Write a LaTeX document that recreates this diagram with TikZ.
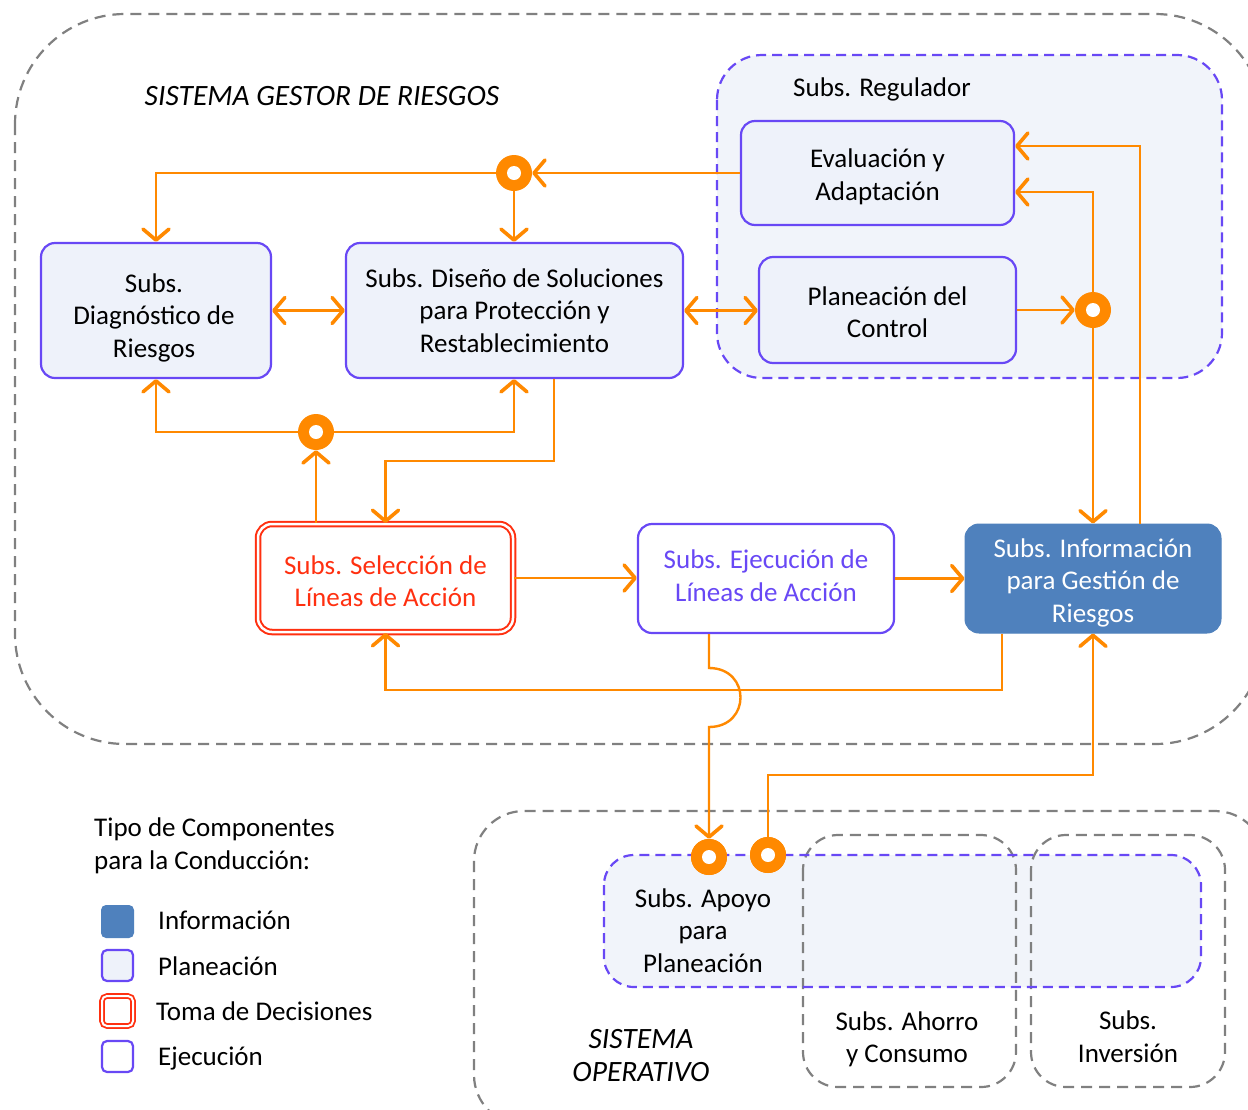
\documentclass[tikz,border=0pt]{standalone}
\usepackage{fontspec}
\setmainfont{Carlito}
\usetikzlibrary{arrows.meta}
\definecolor{org}{RGB}{255,137,0}
\definecolor{pur}{RGB}{104,72,245}
\definecolor{pfill}{RGB}{238,242,250}
\definecolor{rfill}{RGB}{241,244,250}
\definecolor{redc}{RGB}{255,48,16}
\definecolor{info}{RGB}{79,129,189}
\definecolor{gry}{RGB}{128,128,128}
\newcommand\myfs{\fontsize{27}{32.5}\selectfont}
\newcommand\myit{\fontsize{29.5}{33}\selectfont\itshape}
\begin{document}
\begin{tikzpicture}[x=1pt,y=-1pt,
  box/.style={draw=pur, line width=2.2pt, rounded corners=14pt, fill=pfill, inner sep=0pt},
  selbox/.style={draw=redc, double=white, double distance=2.5pt, line width=2pt, rounded corners=14pt, fill=white, inner sep=0pt},
  ejbox/.style={box, fill=white},
  infobox/.style={draw=info, line width=1pt, rounded corners=14pt, fill=info, inner sep=0pt},
  lbl/.style={align=center, font=\myfs, inner sep=0pt},
  jc/.style={circle, fill=org, minimum size=36pt, inner sep=0pt,
    path picture={\fill[white] (path picture bounding box.center) circle (7pt);}},
  con/.style={draw=org, line width=2.4pt},
  >={Straight Barb[length=11pt,width=26pt,line width=3.6pt,round]},
  gdash/.style={draw=gry, line width=2.2pt, dash pattern=on 11pt off 7pt},
  pdash/.style={draw=pur, line width=2.2pt, dash pattern=on 10pt off 6pt}
]
\useasboundingbox (0,0) rectangle (1248,1109);
\clip (0,0) rectangle (1248,1109);
\fill[white] (0,0) rectangle (1248,1109);

% outer systems
\draw[gdash, rounded corners=110pt] (15,14) rectangle (1265,744);
\draw[gdash, rounded corners=50pt] (474,811) rectangle (1265,1125);

% regulador
\draw[pdash, fill=rfill, rounded corners=45pt] (717,55) rectangle (1222,378);
\node[lbl] (regl) at (882,89.5) {Subs. Regulador};
\node[lbl, font=\myit] (title) at (322,96) {SISTEMA GESTOR DE RIESGOS};

% boxes
\node[box, minimum width=273pt, minimum height=104pt] (eval) at (877.5,173) {};
\node[box, minimum width=257pt, minimum height=106pt] (plan) at (887.5,310) {};
\node[box, minimum width=230pt, minimum height=135pt] (diag) at (156,310.5) {};
\node[box, minimum width=337pt, minimum height=135pt] (dis) at (514.5,310.5) {};
\node[selbox, minimum width=255pt, minimum height=108pt] (sel) at (385.5,578) {};
\node[ejbox, minimum width=256pt, minimum height=109pt] (ejec) at (766,578.5) {};
\node[infobox, minimum width=256pt, minimum height=109pt] (inf) at (1093,578.5) {};
\node[lbl] (evalt) at ([yshift=-4pt]eval.center) {Evaluación y\\Adaptación};
\node[lbl] (plant) at ([yshift=-2pt]plan.center) {Planeación del\\Control};
\node[lbl] (diagt) at ([xshift=-2pt,yshift=-7pt]diag.center) {Subs.\\Diagnóstico de\\Riesgos};
\node[lbl] (dist) at (dis.center) {Subs. Diseño de Soluciones\\para Protección y\\Restablecimiento};
\node[lbl, text=redc] (selt) at ([yshift=-3pt]sel.center) {Subs. Selección de\\Líneas de Acción};
\node[lbl, text=pur] (eject) at ([yshift=3pt]ejec.center) {Subs. Ejecución de\\Líneas de Acción};
\node[lbl, text=white] (inft) at ([yshift=-4pt]inf.center) {Subs. Información\\para Gestión de\\Riesgos};

% operativo
\fill[rfill, rounded corners=30pt] (604,855) rectangle (1201,987);
\draw[gdash, rounded corners=35pt] (803,835) rectangle (1016,1087);
\draw[gdash, rounded corners=35pt] (1031,835) rectangle (1225,1087);
\draw[pdash, rounded corners=30pt] (604,855) rectangle (1201,987);
\node[lbl] (apoyo) at (703,930.5) {Subs. Apoyo\\para\\Planeación};
\node[lbl] (ahorro) at (907,1039.5) {Subs. Ahorro\\y Consumo};
\node[lbl] (inv) at (1128,1036.5) {Subs.\\Inversión};
\node[lbl, font=\myit] (sop) at (641,1056) {SISTEMA\\OPERATIVO};

% junctions
\node[jc] (j1) at (514,173) {};
\node[jc] (j2) at (1093,310) {};
\node[jc] (j3) at (316,432) {};
\node[jc] (j4) at (709,857) {};
\node[jc] (j5) at (768,855) {};

% connectors
\draw[con,->] (eval.west) -- (j1);
\draw[con,->] (j1) -- (j1 -| diag) -- (diag.north);
\draw[con,->] (j1) -- (j1 |- dis.north);
\draw[con,<->] (diag.east) -- (dis.west);
\draw[con,<->] (dis.east) -- (dis.east -| plan.west);
\draw[con,->] (plan.east |- j2) -- (j2);
\draw[con,->] (j2) |- ([yshift=-19pt]eval.east);
\draw[con,->] (j2) -- (inf.north);
\draw[con,->] ([xshift=47pt]inf.north) |- ([yshift=27pt]eval.east);
\draw[con,->] (j3) -| (diag.south);
\draw[con,->] (j3) -| (j1 |- dis.south);
\draw[con,->] (sel.north -| j3) -- (j3);
\coordinate (k1) at (554,461);
\draw[con,->] (k1 |- dis.south) -- (k1) -| (sel.north);
\draw[con,->] (sel.east) -- (sel.east -| ejec.west);
\draw[con,->] (ejec.east) -- (inf.west);
\coordinate (k2) at (1002,690);
\draw[con,->] (k2 |- inf.south) -- (k2) -| (sel.south);
\coordinate (h1) at (709,668);
\coordinate (h2) at (709,727);
\draw[con,->] (h1 |- ejec.south) -- (h1) .. controls (751,668) and (751,727) .. (h2) -- (j4);
\coordinate (k3) at (768,775);
\draw[con,->] (j5) -- (k3) -| (inf.south);
\node[jc] at (j4) {};
\node[jc] at (j5) {};

% legend
\node[anchor=west, align=left, font=\myfs, inner sep=0pt] (leg) at (94,846) {Tipo de Componentes\\para la Conducción:};
\fill[info, rounded corners=5pt] (101,905) rectangle (134,938);
\draw[pur, line width=2.2pt, fill=pfill, rounded corners=5pt] (102,950) rectangle (133,981);
\draw[redc, double=white, double distance=2pt, line width=1.8pt, rounded corners=5pt] (102,996) rectangle (133,1026);
\draw[pur, line width=2.2pt, fill=white, rounded corners=5pt] (102,1041) rectangle (133,1072);
\node[anchor=west, font=\myfs, inner sep=0pt] (l1) at (158,920) {Información};
\node[anchor=west, font=\myfs, inner sep=0pt] (l2) at (158,966) {Planeación};
\node[anchor=west, font=\myfs, inner sep=0pt] (l3) at (156,1011) {Toma de Decisiones};
\node[anchor=west, font=\myfs, inner sep=0pt] (l4) at (158,1059) {Ejecución};
\end{tikzpicture}
\end{document}
